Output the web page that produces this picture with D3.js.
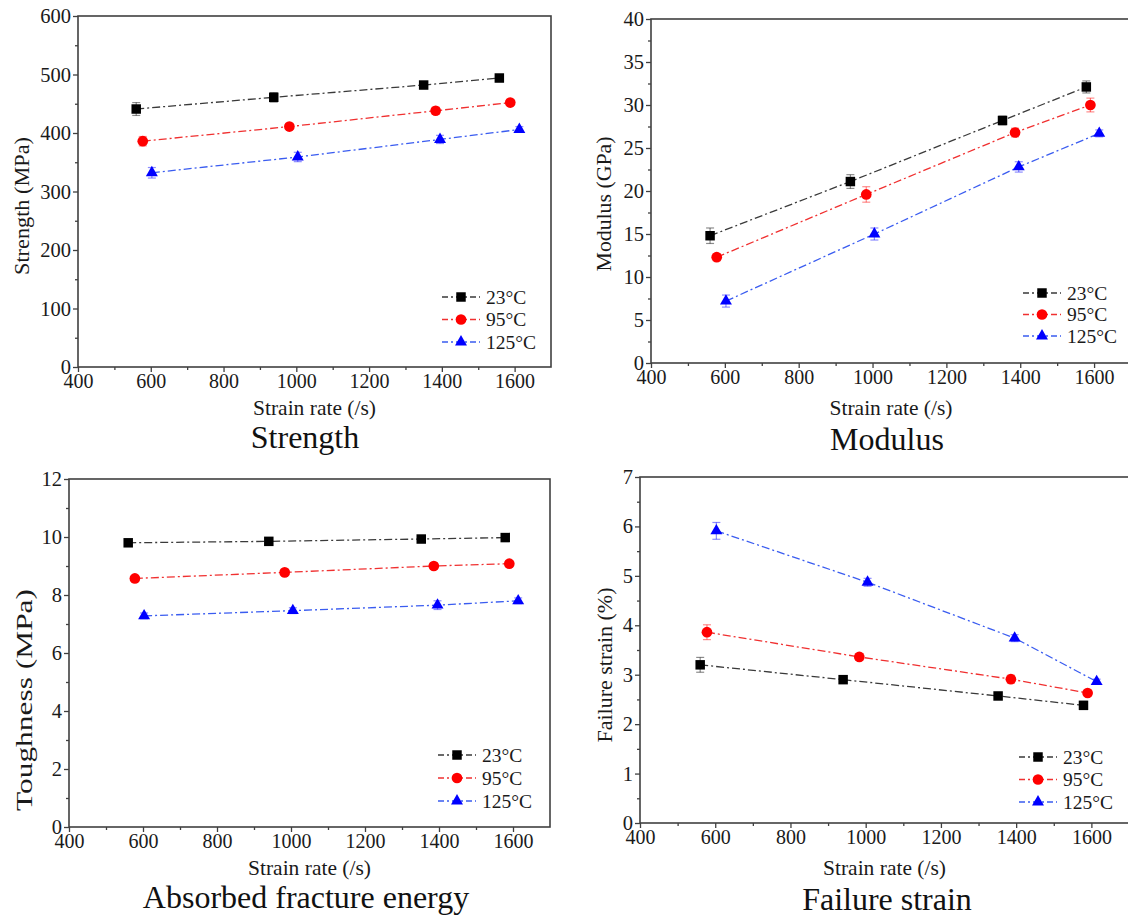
<!DOCTYPE html>
<meta charset="utf-8">
<body style="margin:0;background:#fff">
<script src="https://d3js.org/d3.v7.min.js"></script>
<script>
var width = 1128,
    height = 921;

var temps = ["23°C", "95°C", "125°C"];
var colors = ["#000000", "#ff0000", "#0000ff"];
var lineColors = ["#3a3a3a", "#f03030", "#3a5cf0"];

var xTicks = [400, 600, 800, 1000, 1200, 1400, 1600];
var xMinor = [500, 700, 900, 1100, 1300, 1500];

// strain rates (/s), one row per temperature
var rateStrength = [[560, 938, 1350, 1558], [578, 981, 1383, 1588], [603, 1004, 1395, 1613]];
var rateOther = [[560, 940, 1352, 1579], [578, 983, 1386, 1590], [603, 1005, 1396, 1614]];

var strength = [[441, 461, 482, 494], [386, 411, 438, 452], [332, 359, 389, 406]];
var strengthErr = [[11, 8, 5, 6], [8, 5, 6, 5], [9, 8, 7, 5]];

var modulus = [[14.8, 21.1, 28.2, 32.1], [12.3, 19.6, 26.8, 30.0], [7.2, 15.0, 22.8, 26.7]];
var modulusErr = [[0.9, 0.8, 0.5, 0.7], [0.4, 0.9, 0.5, 0.8], [0.7, 0.7, 0.6, 0.4]];

var toughness = [[9.8, 9.85, 9.93, 9.98], [8.57, 8.78, 9.0, 9.08], [7.28, 7.46, 7.65, 7.8]];
var toughnessErr = [[0.08, 0.08, 0.08, 0.08], [0.1, 0.1, 0.1, 0.1], [0.1, 0.1, 0.15, 0.1]];

var failure = [[3.2, 2.9, 2.57, 2.38], [3.86, 3.36, 2.91, 2.63], [5.91, 4.87, 3.74, 2.86]];
var failureErr = [[0.15, 0.05, 0.06, 0.08], [0.15, 0.07, 0.08, 0.05], [0.17, 0.08, 0.07, 0.05]];

var panels = [
  {caption: "Strength", yLabel: "Strength (MPa)", yMax: 600, yStep: 100,
   rates: rateStrength, vals: strength, errs: strengthErr,
   left: 78, right: 551, top: 16, bottom: 367,
   capX: 305, capY: 448, xtY: 415, ytX: 22, ytY: 206, ytLen: 138, ytSize: 21,
   legX: 461, legY: 297, legStep: 22.5},
  {caption: "Modulus", yLabel: "Modulus (GPa)", yMax: 40, yStep: 5,
   rates: rateOther, vals: modulus, errs: modulusErr,
   left: 651, right: 1131, top: 19, bottom: 363,
   capX: 887, capY: 450, xtY: 415, ytX: 604, ytY: 204, ytLen: 135, ytSize: 21,
   legX: 1042, legY: 293, legStep: 21.5},
  {caption: "Absorbed fracture energy", yLabel: "Toughness (MPa)", yMax: 12, yStep: 2,
   rates: rateOther, vals: toughness, errs: toughnessErr,
   left: 69, right: 550, top: 479, bottom: 827,
   capX: 306, capY: 908, xtY: 875, ytX: 24, ytY: 700, ytLen: 222, ytSize: 23,
   legX: 457, legY: 755, legStep: 23},
  {caption: "Failure strain", yLabel: "Failure strain (%)", yMax: 7, yStep: 1,
   rates: rateOther, vals: failure, errs: failureErr,
   left: 640, right: 1129, top: 477, bottom: 823,
   capX: 887, capY: 910, xtY: 875, ytX: 605, ytY: 665, ytLen: 155, ytSize: 21,
   legX: 1038, legY: 757, legStep: 22.5}
];

var font = "Liberation Serif, Times New Roman, serif";
var symbols = [d3.symbolSquare, d3.symbolCircle, d3.symbolTriangle];
var symSizes = [90, 90, 62];
var dash = "8,3,2,3";

var svg = d3.select("body").append("svg")
    .attr("width", width)
    .attr("height", height)
    .attr("font-family", font);

svg.append("rect").attr("width", width).attr("height", height).attr("fill", "#fff");

panels.forEach(function(p) {
  var x = d3.scaleLinear().domain([400, 1700]).range([p.left, p.right]);
  var y = d3.scaleLinear().domain([0, p.yMax]).range([p.bottom, p.top]);
  var yTicks = d3.range(0, p.yMax + p.yStep / 2, p.yStep);
  var yMinor = d3.range(p.yStep / 2, p.yMax, p.yStep);

  var g = svg.append("g").style("color", "#404040");

  // minor ticks
  g.append("g")
    .attr("transform", "translate(0," + p.bottom + ")")
    .call(d3.axisBottom(x).tickValues(xMinor).tickSize(3).tickFormat(""))
    .call(function(a) { a.select(".domain").remove(); });
  g.append("g")
    .attr("transform", "translate(" + p.left + ",0)")
    .call(d3.axisLeft(y).tickValues(yMinor).tickSize(3).tickFormat(""))
    .call(function(a) { a.select(".domain").remove(); });

  // major ticks + labels
  var xa = g.append("g")
    .attr("transform", "translate(0," + p.bottom + ")")
    .call(d3.axisBottom(x).tickValues(xTicks).tickSize(5).tickPadding(4).tickFormat(d3.format("d")))
    .attr("font-family", font).attr("font-size", 20);
  xa.select(".domain").remove();
  xa.selectAll("text")
    .attr("y", 21).attr("dy", null).attr("fill", "#1a1a1a");

  var ya = g.append("g")
    .attr("transform", "translate(" + p.left + ",0)")
    .call(d3.axisLeft(y).tickValues(yTicks).tickSize(5).tickPadding(2).tickFormat(d3.format("d")))
    .attr("font-family", font).attr("font-size", 20.5);
  ya.select(".domain").remove();
  ya.selectAll("text").attr("fill", "#1a1a1a");
  g.selectAll(".tick line").attr("stroke-width", 1.3);

  // frame
  g.append("rect")
    .attr("x", p.left).attr("y", p.top)
    .attr("width", p.right - p.left).attr("height", p.bottom - p.top)
    .attr("fill", "none").attr("stroke", "#404040").attr("stroke-width", 1.6);

  // axis titles
  svg.append("text")
    .attr("x", (p.left + p.right) / 2).attr("y", p.xtY)
    .attr("text-anchor", "middle")
    .attr("font-size", 21.5).attr("fill", "#1a1a1a")
    .text("Strain rate (/s)");

  svg.append("text")
    .attr("transform", "translate(" + p.ytX + "," + p.ytY + ")rotate(-90)")
    .attr("text-anchor", "middle").attr("dy", "0.35em")
    .attr("textLength", p.ytLen).attr("lengthAdjust", "spacingAndGlyphs")
    .attr("font-size", p.ytSize).attr("fill", "#1a1a1a")
    .text(p.yLabel);

  svg.append("text")
    .attr("x", p.capX).attr("y", p.capY)
    .attr("text-anchor", "middle")
    .attr("font-size", 32).attr("fill", "#111")
    .text(p.caption);

  var line = d3.line()
    .x(function(d) { return x(d[0]); })
    .y(function(d) { return y(d[1]); });

  temps.forEach(function(t, i) {
    var pts = p.rates[i].map(function(r, j) { return [r, p.vals[i][j], p.errs[i][j]]; });

    g.append("path")
      .datum(pts)
      .attr("d", line)
      .attr("fill", "none")
      .attr("stroke", lineColors[i])
      .attr("stroke-width", 1.3)
      .attr("stroke-dasharray", dash);

    var eb = g.append("g").attr("stroke", colors[i]).attr("stroke-opacity", 0.45).attr("stroke-width", 1.2);
    pts.forEach(function(d) {
      var cx = x(d[0]), y1 = y(d[1] + d[2]), y2 = y(d[1] - d[2]);
      eb.append("line").attr("x1", cx).attr("x2", cx).attr("y1", y1).attr("y2", y2);
      eb.append("line").attr("x1", cx - 4).attr("x2", cx + 4).attr("y1", y1).attr("y2", y1);
      eb.append("line").attr("x1", cx - 4).attr("x2", cx + 4).attr("y1", y2).attr("y2", y2);
    });

    g.selectAll(null)
      .data(pts)
      .enter()
      .append("path")
      .attr("d", d3.symbol().type(symbols[i]).size(symSizes[i]))
      .attr("transform", function(d) { return "translate(" + x(d[0]) + "," + y(d[1]) + ")"; })
      .attr("fill", colors[i]);

    // legend
    var ly = p.legY + i * p.legStep;
    g.append("line")
      .attr("x1", p.legX - 19).attr("x2", p.legX + 19)
      .attr("y1", ly).attr("y2", ly)
      .attr("stroke", lineColors[i]).attr("stroke-width", 1.3)
      .attr("stroke-dasharray", "6,3,2,3");
    g.append("path")
      .attr("d", d3.symbol().type(symbols[i]).size(symSizes[i]))
      .attr("transform", "translate(" + p.legX + "," + ly + ")")
      .attr("fill", colors[i]);
    svg.append("text")
      .attr("x", p.legX + 25).attr("y", ly).attr("dy", "0.35em")
      .attr("font-size", 19.5).attr("fill", "#1a1a1a")
      .text(t);
  });
});
</script>
</body>
